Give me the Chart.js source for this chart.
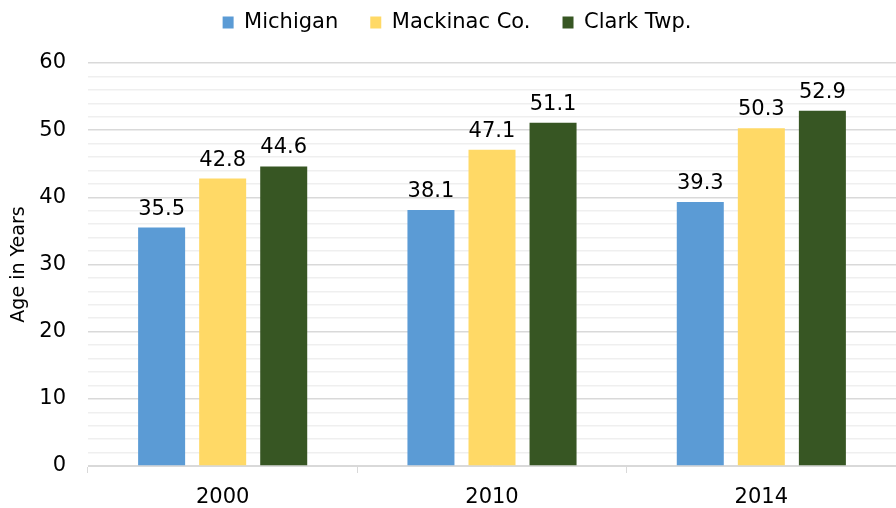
<!DOCTYPE html>
<html>
<head>
<meta charset="utf-8">
<script src="https://cdn.jsdelivr.net/npm/chart.js@4"></script>
<style>
  html, body { margin: 0; padding: 0; background: #fff; }
  #wrap { width: 896px; height: 508px; }
</style>
</head>
<body>
<div id="wrap"><canvas id="chart"></canvas></div>
<script>
// data
const years = ['2000', '2010', '2014'];
const michigan = [35.5, 38.1, 39.3];
const mackinac = [42.8, 47.1, 50.3];
const clark = [44.6, 51.1, 52.9];
const seriesNames = ['Michigan', 'Mackinac Co.', 'Clark Twp.'];
const seriesColors = ['#5b9bd5', '#ffd966', '#375623'];

const FONT = 'DejaVu Sans';

// value labels above each bar
const barLabels = {
  id: 'barLabels',
  afterDatasetsDraw(chart) {
    const ctx = chart.ctx;
    ctx.save();
    ctx.font = '21px "' + FONT + '"';
    ctx.fillStyle = '#000';
    ctx.textAlign = 'center';
    ctx.textBaseline = 'alphabetic';
    chart.data.datasets.forEach((ds, i) => {
      chart.getDatasetMeta(i).data.forEach((bar, j) => {
        ctx.fillText(ds.data[j].toFixed(1), bar.x, bar.y - 13);
      });
    });
    ctx.restore();
  }
};

// make the legend taller so the plot starts lower, and nudge it right a bit
const legendSpace = {
  id: 'legendSpace',
  beforeInit(chart) {
    const origFit = chart.legend.fit;
    chart.legend.fit = function () {
      origFit.bind(chart.legend)();
      this.height = 83;
      if (this.lineWidths) this.lineWidths[0] -= 18;
    };
  }
};

new Chart(document.getElementById('chart'), {
  type: 'bar',
  data: {
    labels: years,
    datasets: [michigan, mackinac, clark].map((vals, i) => ({
      label: seriesNames[i],
      data: vals,
      backgroundColor: seriesColors[i],
      categoryPercentage: 0.68,
      barPercentage: 0.77
    }))
  },
  options: {
    responsive: true,
    maintainAspectRatio: false,
    animation: false,
    layout: { padding: { top: -20, right: 0, left: 0, bottom: 0 } },
    plugins: {
      legend: {
        position: 'top',
        labels: {
          font: { family: FONT, size: 21 },
          color: '#000',
          boxWidth: 11,
          boxHeight: 12,
          padding: 32
        }
      },
      tooltip: { enabled: false }
    },
    scales: {
      x: {
        afterFit(scale) { scale.height = 42; },
        grid: {
          offset: true,
          drawOnChartArea: false,
          drawTicks: true,
          tickLength: 7,
          color: '#d9d9d9'
        },
        border: { color: '#d9d9d9' },
        ticks: { font: { family: FONT, size: 21 }, color: '#000', padding: 12 }
      },
      y: {
        min: 0,
        max: 60,
        afterFit(scale) { scale.width = 88; },
        ticks: {
          stepSize: 2,
          autoSkip: false,
          font: { family: FONT, size: 21 },
          color: '#000',
          padding: 22,
          callback: v => (v % 10 === 0 ? v : '')
        },
        grid: {
          drawTicks: false,
          color: c => (c.tick && c.tick.value % 10 === 0 ? '#d9d9d9' : '#efefef'),
          lineWidth: 1.5
        },
        border: { display: false },
        title: {
          display: true,
          text: 'Age in Years',
          font: { family: FONT, size: 19 },
          color: '#000',
          padding: { top: 8, bottom: 4 }
        }
      }
    }
  },
  plugins: [barLabels, legendSpace]
});
</script>
</body>
</html>
